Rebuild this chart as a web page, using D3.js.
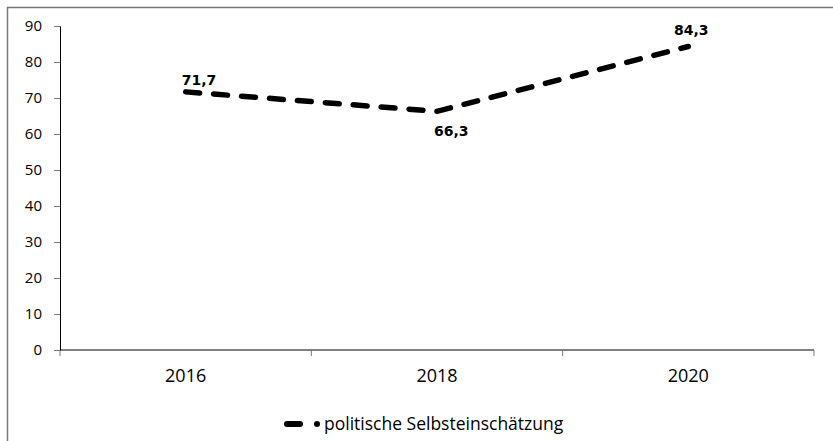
<!DOCTYPE html>
<html>
<head>
<meta charset="utf-8">
<script src="https://cdn.jsdelivr.net/npm/d3@7"></script>
<style>
  body { margin: 0; background: #fff; }
  svg { display: block; }
</style>
</head>
<body>
<div id="chart"></div>
<script>
var years = ["2016", "2018", "2020"];
var values = [71.7, 66.3, 84.3];
var valueLabels = ["71,7", "66,3", "84,3"];
var yTicks = [0, 10, 20, 30, 40, 50, 60, 70, 80, 90];
var seriesName = "politische Selbsteinschätzung";

var width = 833, height = 441;
var plot = { left: 60, right: 814, top: 26, bottom: 350 };

var svg = d3.select("#chart").append("svg")
  .attr("width", width)
  .attr("height", height);

// outer frame (right and bottom edges are cut off in the original)
svg.append("rect")
  .attr("x", 7.5).attr("y", 7.5)
  .attr("width", 840).attr("height", 460)
  .attr("fill", "none")
  .attr("stroke", "#777")
  .attr("stroke-width", 1.5);

var x = d3.scaleBand()
  .domain(years)
  .range([plot.left, plot.right]);

var y = d3.scaleLinear()
  .domain([0, 90])
  .range([plot.bottom, plot.top]);

// y axis
var yAxis = svg.append("g")
  .attr("transform", "translate(" + plot.left + ",0)")
  .call(d3.axisLeft(y).tickValues(yTicks).tickSize(6).tickPadding(12));
yAxis.select(".domain").attr("stroke", "#000");
yAxis.selectAll(".tick line").attr("stroke", "#777");
yAxis.selectAll("text")
  .attr("font-family", "Open Sans")
  .attr("font-size", 15)
  .attr("fill", "#000");

// x axis, ticks at band edges
var xAxis = svg.append("g")
  .attr("transform", "translate(0," + plot.bottom + ")");
xAxis.append("line")
  .attr("x1", plot.left).attr("x2", plot.right)
  .attr("stroke", "#000");
var edges = years.map(function(d) { return x(d); }).concat([plot.right]);
xAxis.selectAll("line.tick")
  .data(edges)
  .enter().append("line")
  .attr("class", "tick")
  .attr("x1", function(d) { return d; })
  .attr("x2", function(d) { return d; })
  .attr("y1", 0).attr("y2", 6)
  .attr("stroke", "#777");
xAxis.selectAll("text")
  .data(years)
  .enter().append("text")
  .attr("x", function(d) { return x(d) + x.bandwidth() / 2; })
  .attr("y", 32)
  .attr("text-anchor", "middle")
  .attr("font-family", "Open Sans")
  .attr("font-size", 18)
  .text(function(d) { return d; });

// line
var pts = years.map(function(d, i) {
  return [x(d) + x.bandwidth() / 2, y(values[i])];
});

svg.append("path")
  .attr("d", d3.line()(pts))
  .attr("fill", "none")
  .attr("stroke", "#000")
  .attr("stroke-width", 5.5)
  .attr("stroke-linecap", "round")
  .attr("stroke-dasharray", "14 14");

// value labels
var labelAnchor = ["start", "start", "middle"];
var labelDx = [-4, -3, 3];
var labelDy = [-7, 25, -12];
svg.selectAll("text.val")
  .data(pts)
  .enter().append("text")
  .attr("class", "val")
  .attr("x", function(d, i) { return d[0] + labelDx[i]; })
  .attr("y", function(d, i) { return d[1] + labelDy[i]; })
  .attr("text-anchor", function(d, i) { return labelAnchor[i]; })
  .attr("font-family", "DejaVu Sans")
  .attr("font-weight", "bold")
  .attr("font-size", 14)
  .text(function(d, i) { return valueLabels[i]; });

// legend
var leg = svg.append("g").attr("transform", "translate(284,424)");
leg.append("line")
  .attr("x1", 3).attr("x2", 16)
  .attr("stroke", "#000")
  .attr("stroke-width", 6)
  .attr("stroke-linecap", "round");
leg.append("circle")
  .attr("cx", 33).attr("cy", 0).attr("r", 3)
  .attr("fill", "#000");
leg.append("text")
  .attr("x", 40)
  .attr("y", 6)
  .attr("font-family", "Open Sans")
  .attr("font-size", 17.5)
  .text(seriesName);
</script>
</body>
</html>
